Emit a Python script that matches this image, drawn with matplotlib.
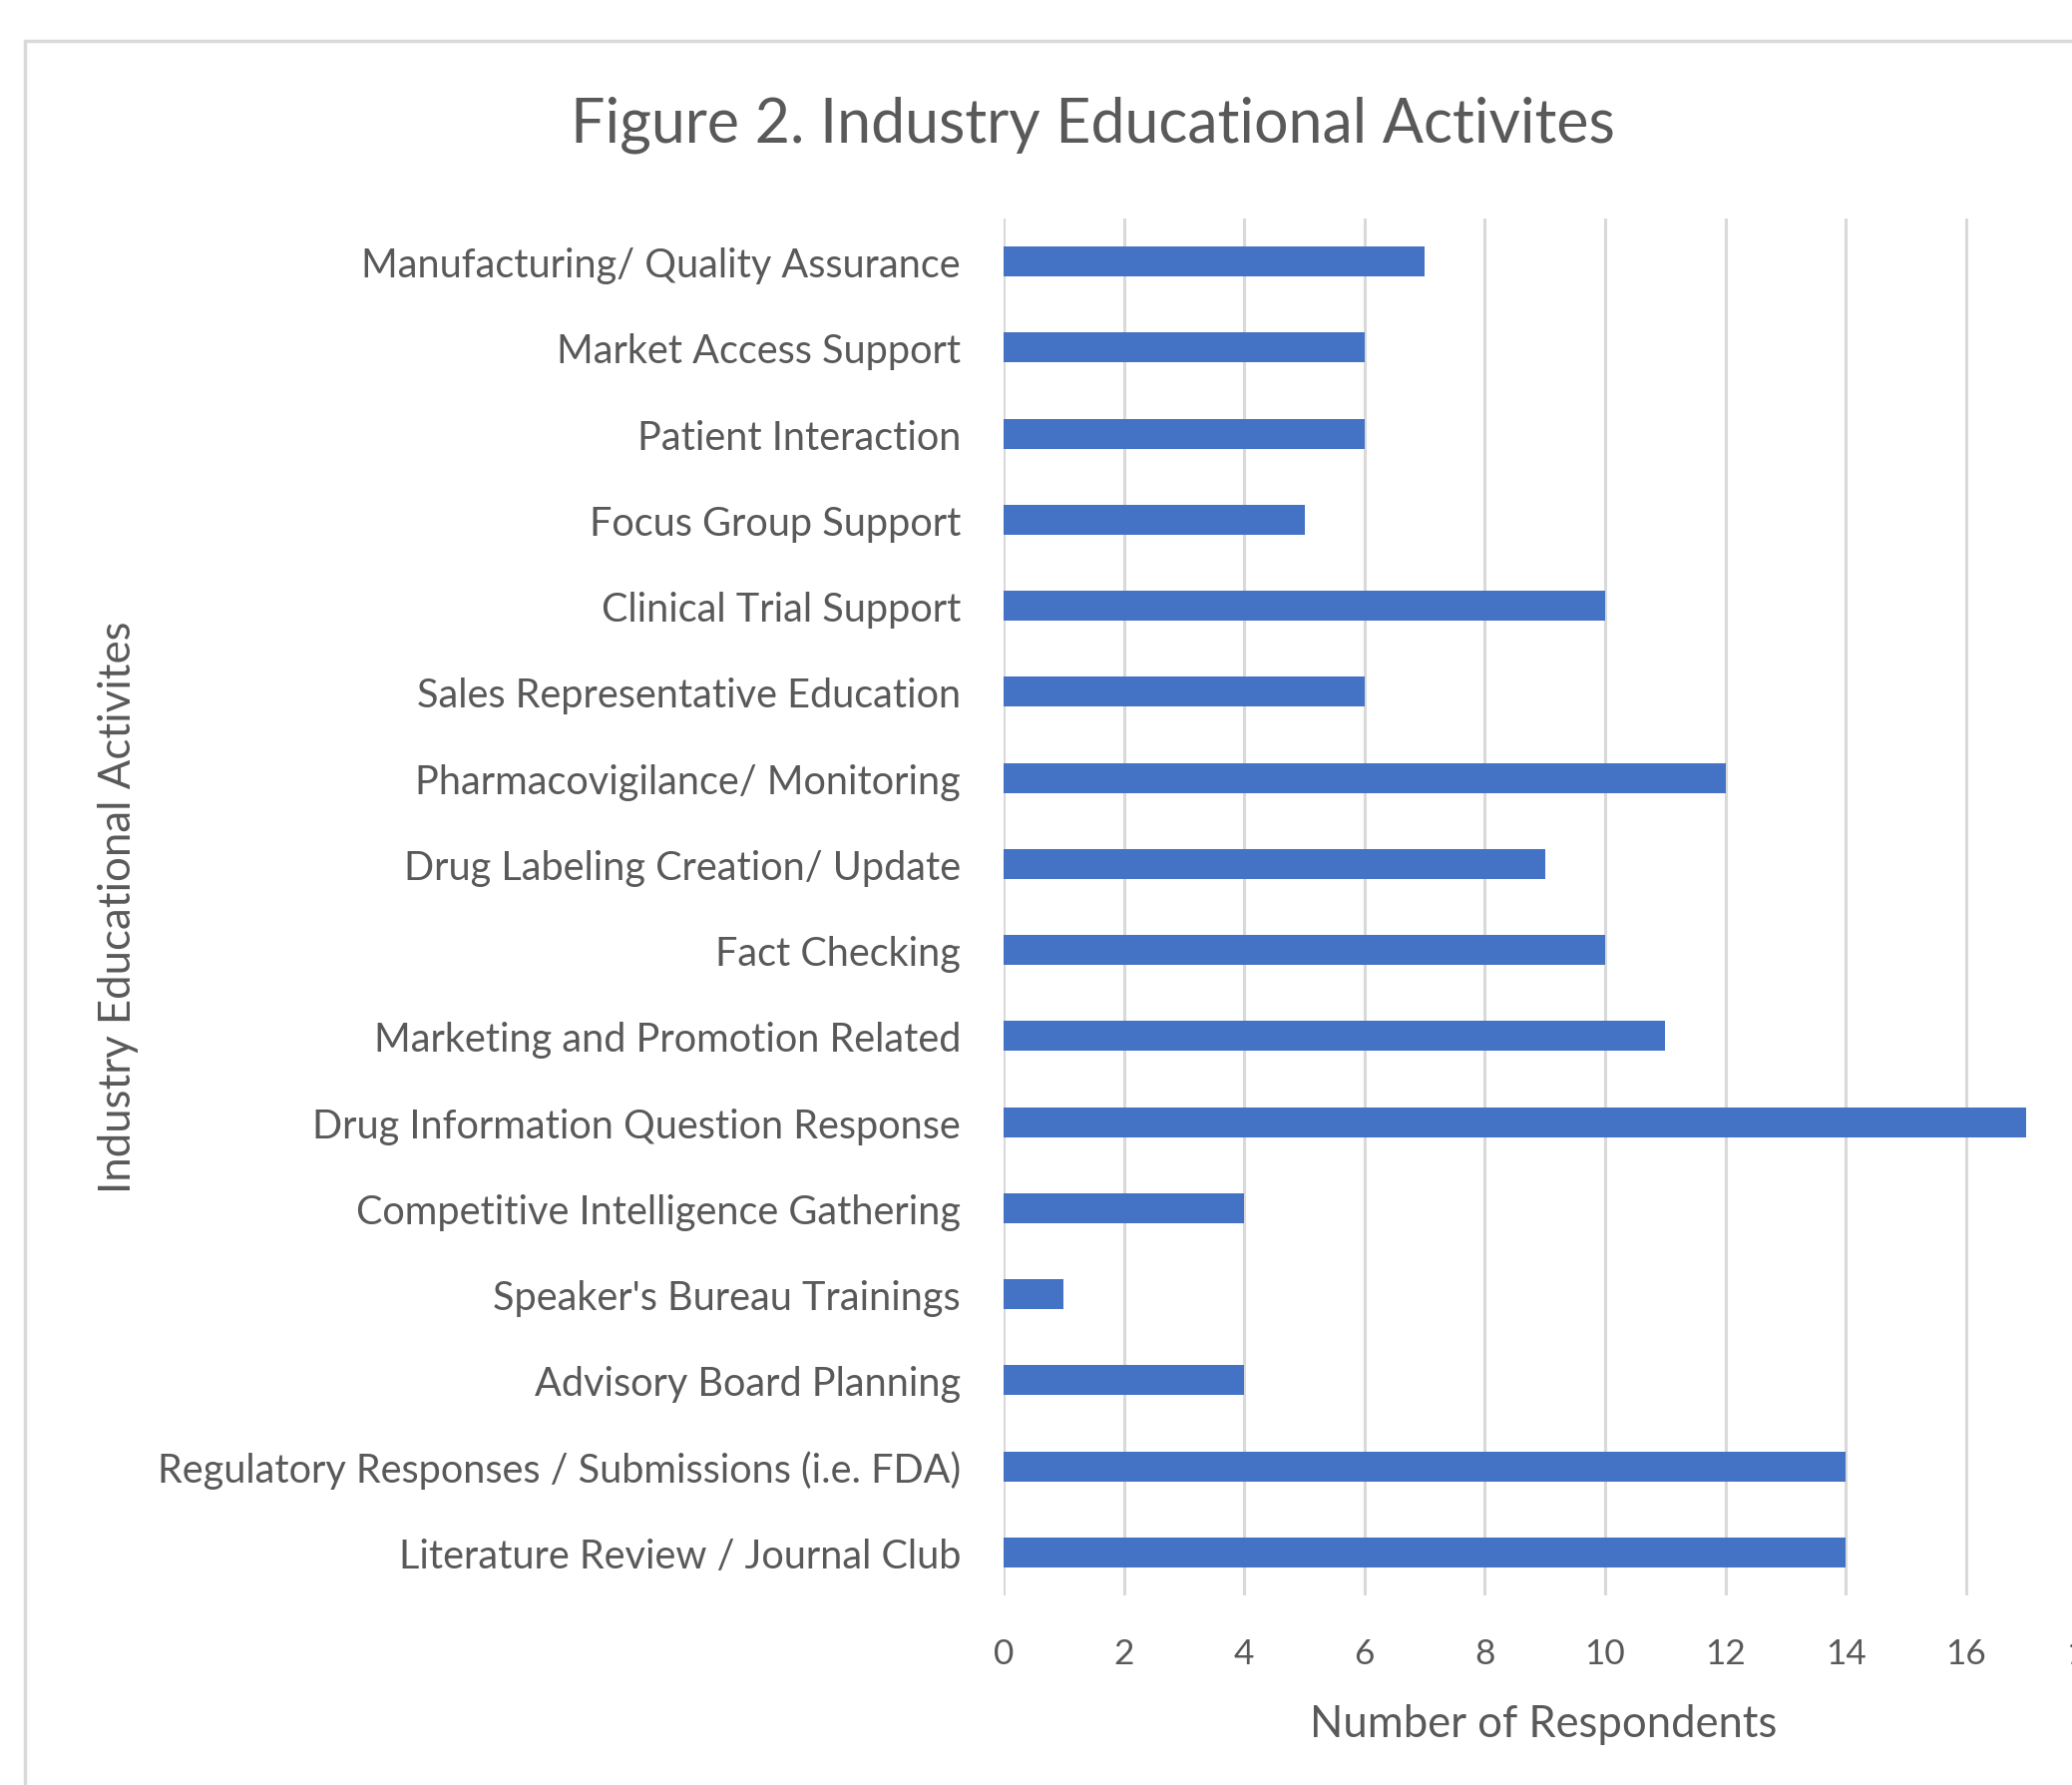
import matplotlib
matplotlib.use("Agg")
import matplotlib.pyplot as plt
from matplotlib.patches import Rectangle

# ---- data ----
categories = [
    "Manufacturing/ Quality Assurance",
    "Market Access Support",
    "Patient Interaction",
    "Focus Group Support",
    "Clinical Trial Support",
    "Sales Representative Education",
    "Pharmacovigilance/ Monitoring",
    "Drug Labeling Creation/ Update",
    "Fact Checking",
    "Marketing and Promotion Related",
    "Drug Information Question Response",
    "Competitive Intelligence Gathering",
    "Speaker's Bureau Trainings",
    "Advisory Board Planning",
    "Regulatory Responses / Submissions (i.e. FDA)",
    "Literature Review / Journal Club",
]
values = [7, 6, 6, 5, 10, 6, 12, 9, 10, 11, 17, 4, 1, 4, 14, 14]
xticks = [0, 2, 4, 6, 8, 10, 12, 14, 16, 18]
title = "Figure 2. Industry Educational Activites"
xlabel = "Number of Respondents"
ylabel = "Industry Educational Activites"

# ---- style ----
W, H, DPI = 2077, 1790, 100
TXT = "#595959"
GRID = "#d9d9d9"
BAR = "#4472C4"
plt.rcParams['font.family'] = ['Lato', 'DejaVu Sans']

fig = plt.figure(figsize=(W / DPI, H / DPI), dpi=DPI)
fig.patch.set_facecolor("white")
renderer = fig.canvas.get_renderer()


def fit_size(text, target_px, base=20.0, **kw):
    t = fig.text(0, 0, text, fontsize=base, **kw)
    w = t.get_window_extent(renderer).width
    t.remove()
    return base * target_px / w


def fx(x):
    return x / W


def fy(y):
    return 1 - y / H


# outer chart border (continues past right/bottom edges)
fig.add_artist(Rectangle((fx(25), fy(H + 50)), fx(W + 100), (H + 50 - 42) / H,
                         transform=fig.transFigure, fill=False,
                         edgecolor=GRID, linewidth=2.5))

# axes region (pixel coords in the reference)
unit = 60.3
ax_l, ax_t, ax_b = 1006, 220, 1600
ax_r = ax_l + 18 * unit
ax = fig.add_axes([fx(ax_l), fy(ax_b), (ax_r - ax_l) / W, (ax_b - ax_t) / H])

n = len(categories)
ypos = list(range(n))
ax.barh(ypos, values, height=0.35, color=BAR, zorder=3)
ax.set_xlim(0, 18)
ax.set_ylim(n - 0.5, -0.5)
ax.set_xticks(xticks)
ax.set_yticks(ypos)

ysize = fit_size(categories[14], 805)
xsize = fit_size("16", 41)
ax.set_yticklabels(categories, fontsize=ysize, color=TXT)
ax.set_xticklabels([str(v) for v in xticks], fontsize=xsize, color=TXT)
ax.tick_params(axis="both", length=0)
ax.tick_params(axis="y", pad=31)
ax.tick_params(axis="x", pad=30)
ax.grid(axis="x", color=GRID, linewidth=2.2, zorder=0)
ax.set_axisbelow(True)
for s in ax.spines.values():
    s.set_visible(False)

# title and axis titles
tsize = fit_size(title, 1050)
fig.text(fx(1095), fy(143), title, fontsize=tsize, color=TXT,
         ha="center", va="baseline")
xlsize = fit_size(xlabel, 469)
fig.text(fx(1547), fy(1741), xlabel, fontsize=xlsize, color=TXT,
         ha="center", va="baseline")
ylsize = fit_size(ylabel, 574)
fig.text(fx(119), fy(909), ylabel, fontsize=ylsize, color=TXT,
         ha="center", va="center", rotation=90)

fig.savefig("out.png", dpi=DPI, facecolor="white")
